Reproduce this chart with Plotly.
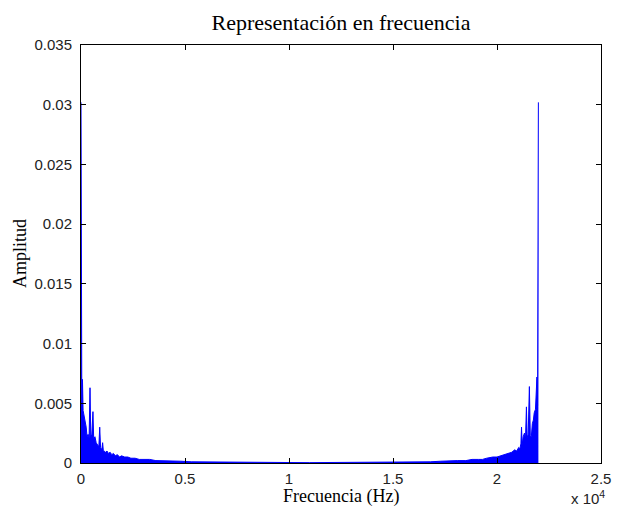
import plotly.graph_objects as go

# Spectrum (Hz, amplitude)
freq_low = [0, 40, 70, 100, 140, 200, 250, 290, 340, 390, 433, 470, 520, 575, 610, 670,
            730, 800, 860, 900, 940, 1000, 1040, 1080, 1120, 1180, 1250, 1320, 1400, 1480,
            1560, 1650, 1750, 1850, 1950, 2100, 2250, 2400, 2600, 2800, 3000, 3300, 3600,
            4000, 4400, 4800, 5300, 6000, 7000, 8000, 9000, 10000, 11000]
amp_low = [0.0302, 0.0046, 0.0070, 0.0044, 0.0040, 0.0036, 0.0030, 0.0022, 0.0024, 0.0021,
           0.0063, 0.0023, 0.0024, 0.0043, 0.0020, 0.0022, 0.0017, 0.0015, 0.0014, 0.0030,
           0.0013, 0.0011, 0.0017, 0.0009, 0.0010, 0.0009, 0.0010, 0.0008, 0.0009, 0.0007,
           0.0008, 0.0006, 0.0007, 0.0005, 0.0006, 0.0005, 0.0005, 0.0004, 0.0004, 0.0003,
           0.0003, 0.0003, 0.0002, 0.0002, 0.0002, 0.00015, 0.0001, 0.0001, 0.00006,
           0.00005, 0.00004, 0.00004, 0.00003]

freq_high = [12000, 13000, 14000, 15000, 16000, 16800, 17300, 17700, 18100, 18500, 18800,
             19100, 19300, 19500, 19800, 20000, 20200, 20380, 20550, 20710, 20850, 20950,
             21040, 21100, 21150, 21180, 21210, 21260, 21320, 21370, 21415, 21450, 21500,
             21557, 21600, 21650, 21700, 21750, 21790, 21850, 21920, 21950, 21990]
amp_high = [0.00004, 0.00004, 0.00005, 0.00006, 0.0001, 0.0001, 0.00015, 0.0002, 0.0002,
            0.0002, 0.0003, 0.0003, 0.0003, 0.0004, 0.0005, 0.0005, 0.0006, 0.0007, 0.0008,
            0.0009, 0.0011, 0.0010, 0.0013, 0.0012, 0.0016, 0.0030, 0.0015, 0.0022, 0.0025,
            0.0020, 0.0047, 0.0021, 0.0024, 0.0064, 0.0023, 0.0022, 0.0033, 0.0036, 0.0042,
            0.0045, 0.0072, 0.0048, 0.0302]

x_ticks = [0, 5000, 10000, 15000, 20000, 25000]
x_tick_text = ["0", "0.5", "1", "1.5", "2", "2.5"]
y_ticks = [0, 0.005, 0.01, 0.015, 0.02, 0.025, 0.03, 0.035]
y_tick_text = ["0", "0.005", "0.01", "0.015", "0.02", "0.025", "0.03", "0.035"]

freqs = freq_low + freq_high
amps = amp_low + amp_high

fig = go.Figure()
fig.add_trace(go.Scatter(
    x=freqs, y=amps, mode="lines",
    line=dict(color="#0000FF", width=1),
    fill="tozeroy", fillcolor="#0000FF",
    hoverinfo="skip", showlegend=False,
))

sans = "Liberation Sans, Arial, sans-serif"
serif = "Liberation Serif, Times New Roman, serif"
tick_font = dict(family=sans, size=15, color="#222222")

# the page body adds an 8px offset, so the figure is 614x502
fig.update_layout(
    width=614, height=502,
    margin=dict(l=73, r=11, t=37, b=47),
    paper_bgcolor="white", plot_bgcolor="white",
    title=dict(text="Representación en frecuencia", x=0.5,
               xref="paper", xanchor="center", y=0.972, yanchor="middle",
               font=dict(family=serif, size=22, color="black")),
    xaxis=dict(
        range=[0, 25000], tickvals=x_ticks, ticktext=x_tick_text,
        ticks="inside", ticklen=5, tickcolor="black", showline=True, linecolor="black",
        linewidth=1, mirror="ticks", showgrid=False, zeroline=False, tickfont=tick_font,
        ticklabelstandoff=2,
    ),
    yaxis=dict(
        range=[0, 0.035], tickvals=y_ticks, ticktext=y_tick_text,
        ticks="inside", ticklen=5, tickcolor="black", showline=True, linecolor="black",
        linewidth=1, mirror="ticks", showgrid=False, zeroline=False, tickfont=tick_font,
        ticklabelstandoff=5,
    ),
    annotations=[
        dict(text="Frecuencia (Hz)", xref="paper", yref="paper", x=0.5, y=0,
             xanchor="center", yanchor="middle", yshift=-33, showarrow=False,
             font=dict(family=serif, size=18, color="black")),
        dict(text="Amplitud", xref="paper", yref="paper", x=0, y=0.5,
             xanchor="center", yanchor="middle", xshift=-61, textangle=-90,
             showarrow=False, font=dict(family=serif, size=18, color="black")),
        dict(text="x 10<sup>4</sup>", xref="paper", yref="paper", x=1.0, y=0,
             xanchor="right", yanchor="middle", yshift=-34, xshift=6, showarrow=False,
             font=dict(family=sans, size=15, color="#222222")),
    ],
)

fig.write_html("out.html")
